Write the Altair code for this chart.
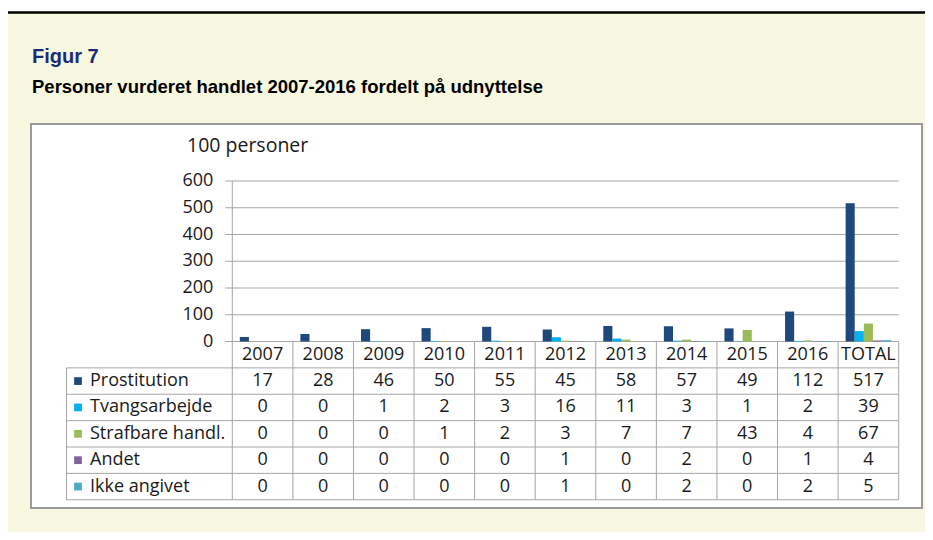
import altair as alt
import pandas as pd

# ---------------- data ----------------
categories = ["2007", "2008", "2009", "2010", "2011", "2012", "2013", "2014", "2015", "2016", "TOTAL"]
series = ["Prostitution", "Tvangsarbejde", "Strafbare handl.", "Andet", "Ikke angivet"]
prostitution = [17, 28, 46, 50, 55, 45, 58, 57, 49, 112, 517]
tvangsarbejde = [0, 0, 1, 2, 3, 16, 11, 3, 1, 2, 39]
strafbare = [0, 0, 0, 1, 2, 3, 7, 7, 43, 4, 67]
andet = [0, 0, 0, 0, 0, 1, 0, 2, 0, 1, 4]
ikke_angivet = [0, 0, 0, 0, 0, 1, 0, 2, 0, 2, 5]
y_ticks = [0, 100, 200, 300, 400, 500, 600]
colors = ["#1F497D", "#00B0F0", "#9BBB59", "#8064A2", "#4BACC6"]
unit_label = "100 personer"
fig_title = "Figur 7"
fig_subtitle = "Personer vurderet handlet 2007-2016 fordelt på udnyttelse"

# ---------------- layout parameters (in scale units) ----------------
ROW = 98.6            # table row height (y units)
LABEL_LEFT = -2.737   # left edge of the table label column (x units = category columns)
GAP = 0.124           # gap before first bar inside a category column
BW = 0.1504           # bar width
N = len(categories)
X_DOMAIN = [-3.323, 11.385]
Y_DOMAIN = [-622.4, 813.1]
FONT = "Open Sans"
FS = 18
LINE = "#A6A6A6"
TXT = "#1a1a1a"

values = [prostitution, tvangsarbejde, strafbare, andet, ikke_angivet]
rows = []
for j, (s, vals) in enumerate(zip(series, values)):
    for i, (c, v) in enumerate(zip(categories, vals)):
        rows.append({"series": s, "sidx": j, "cat": c, "cidx": i, "value": v})
long_df = pd.DataFrame(rows)

xs = alt.Scale(domain=X_DOMAIN, nice=False, zero=False)
ys = alt.Scale(domain=Y_DOMAIN, nice=False, zero=False)
col_scale = alt.Scale(domain=series, range=colors)

base = alt.Chart(long_df)

bars = base.transform_calculate(
    x0=f"datum.cidx + {GAP} + datum.sidx * {BW}",
    x1=f"datum.cidx + {GAP} + (datum.sidx + 1) * {BW}",
    y0="0",
).mark_bar().encode(
    x=alt.X("x0:Q", scale=xs, axis=None),
    x2="x1:Q",
    y=alt.Y("value:Q", scale=ys, axis=None),
    y2="y0:Q",
    color=alt.Color("series:N", scale=col_scale, legend=None),
)

# gridlines
grid_df = pd.DataFrame({"y": y_ticks[1:], "x": 0, "x2": N})
grid = alt.Chart(grid_df).mark_rule(color=LINE, strokeWidth=1).encode(
    x=alt.X("x:Q", scale=xs, axis=None), x2="x2:Q", y=alt.Y("y:Q", scale=ys, axis=None)
)

# y-axis ticks and labels
tick_df = pd.DataFrame({"y": y_ticks, "x": -0.1156, "x2": 0})
ticks = alt.Chart(tick_df).mark_rule(color=LINE, strokeWidth=1).encode(
    x=alt.X("x:Q", scale=xs, axis=None), x2="x2:Q", y=alt.Y("y:Q", scale=ys, axis=None)
)
ylab_df = pd.DataFrame({"y": y_ticks, "x": 0})
ylabels = alt.Chart(ylab_df).mark_text(
    align="right", baseline="middle", dx=-19, font=FONT, fontSize=FS, color=TXT
).encode(
    x=alt.X("x:Q", scale=xs, axis=None), y=alt.Y("y:Q", scale=ys, axis=None), text="y:Q"
)

unit_df = pd.DataFrame({"x": [-0.748], "y": [708.4], "t": [unit_label]})
unit = alt.Chart(unit_df).mark_text(
    align="left", baseline="alphabetic", font=FONT, fontSize=19.5, color=TXT
).encode(x=alt.X("x:Q", scale=xs, axis=None), y=alt.Y("y:Q", scale=ys, axis=None), text="t:N")

# table lines
vrows = [{"x": 0, "y": 600, "y2": -6 * ROW}]
for k in range(1, N + 1):
    vrows.append({"x": k, "y": 0, "y2": -6 * ROW})
vrows.append({"x": LABEL_LEFT, "y": -ROW, "y2": -6 * ROW})
vlines = alt.Chart(pd.DataFrame(vrows)).mark_rule(color=LINE, strokeWidth=1).encode(
    x=alt.X("x:Q", scale=xs, axis=None), y=alt.Y("y:Q", scale=ys, axis=None), y2="y2:Q"
)
hrows = [{"y": 0, "x": 0, "x2": N}]
for k in range(1, 7):
    hrows.append({"y": -k * ROW, "x": LABEL_LEFT, "x2": N})
hlines = alt.Chart(pd.DataFrame(hrows)).mark_rule(color=LINE, strokeWidth=1).encode(
    x=alt.X("x:Q", scale=xs, axis=None), x2="x2:Q", y=alt.Y("y:Q", scale=ys, axis=None)
)

# table header
head_df = pd.DataFrame({"cat": categories, "cidx": list(range(N))})
header = alt.Chart(head_df).transform_calculate(
    xc="datum.cidx + 0.5", yc=f"{-0.5 * ROW}"
).mark_text(baseline="middle", align="center", font=FONT, fontSize=FS, color=TXT).encode(
    x=alt.X("xc:Q", scale=xs, axis=None), y=alt.Y("yc:Q", scale=ys, axis=None), text="cat:N"
)

# table values
cells = base.transform_calculate(
    xc="datum.cidx + 0.5", yc=f"-(datum.sidx + 1.5) * {ROW}"
).mark_text(baseline="middle", align="center", font=FONT, fontSize=FS, color=TXT).encode(
    x=alt.X("xc:Q", scale=xs, axis=None), y=alt.Y("yc:Q", scale=ys, axis=None), text="value:Q"
)

# row labels with legend squares
lab_df = pd.DataFrame({"series": series, "sidx": list(range(len(series)))})
labels = alt.Chart(lab_df).transform_calculate(
    xc=f"{LABEL_LEFT} + 0.388", yc=f"-(datum.sidx + 1.5) * {ROW}"
).mark_text(align="left", baseline="middle", font=FONT, fontSize=FS, color=TXT).encode(
    x=alt.X("xc:Q", scale=xs, axis=None), y=alt.Y("yc:Q", scale=ys, axis=None), text="series:N"
)
squares = alt.Chart(lab_df).transform_calculate(
    xc=f"{LABEL_LEFT} + 0.19", yc=f"-(datum.sidx + 1.5) * {ROW}"
).mark_point(shape="square", filled=True, size=60, opacity=1).encode(
    x=alt.X("xc:Q", scale=xs, axis=None), y=alt.Y("yc:Q", scale=ys, axis=None),
    color=alt.Color("series:N", scale=col_scale, legend=None),
)

# page chrome: white strip, black rule and headings above the chart box
strip = alt.Chart(pd.DataFrame({"a": [0]})).mark_rect(color="white").encode(
    x=alt.value(-23), x2=alt.value(894), y=alt.value(-116), y2=alt.value(-112)
)
topline = alt.Chart(pd.DataFrame({"a": [0]})).mark_rule(color="black", strokeWidth=2.5).encode(
    x=alt.value(-23), x2=alt.value(894), y=alt.value(-111.5)
)
heading = alt.Chart(pd.DataFrame({"t": [fig_title]})).mark_text(
    align="left", baseline="alphabetic", font="Liberation Sans", fontSize=20,
    fontWeight="bold", color="#1B2B7B"
).encode(x=alt.value(1), y=alt.value(-61.5), text="t:N")
subheading = alt.Chart(pd.DataFrame({"t": [fig_subtitle]})).mark_text(
    align="left", baseline="alphabetic", font="Liberation Sans", fontSize=18.5,
    fontWeight="bold", color="black"
).encode(x=alt.value(1), y=alt.value(-31), text="t:N")

chart = alt.layer(
    strip, topline, heading, subheading, grid, ticks, vlines, hlines, bars,
    ylabels, unit, header, cells, labels, squares
).properties(
    width=891,
    height=384,
    padding={"left": 23, "top": 116, "right": 3, "bottom": 24},
    autosize=alt.AutoSizeParams(type="none"),
).configure(background="#F8F8E1").configure_view(
    fill="white", stroke="#9A9A9A", strokeWidth=2
)

chart.save("out.html", embed_options={"renderer": "svg", "actions": False})
